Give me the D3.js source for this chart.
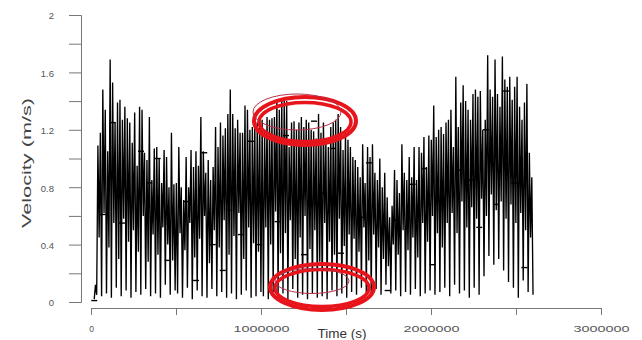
<!DOCTYPE html>
<html>
<head>
<meta charset="utf-8">
<script src="https://cdn.jsdelivr.net/npm/d3@7"></script>
<style>
  body { margin: 0; background: #fff; }
  text { font-family: "Liberation Sans", Arial, sans-serif; }
</style>
</head>
<body>
<div id="chart"></div>
<script>
// velocity record: first sample, then peak / trough pairs
var startVel = 0.02;

var peakVel = [
  0.12, 1.09, 1.18, 1.48, 1.34, 1.05, 1.69, 1.53, 1.25, 1.39, 1.41, 1.27, 1.36, 1.28, 1.25, 1.11, 1.32,
  0.95, 1.36, 1.34, 1.04, 0.99, 1.29, 0.85, 1.07, 1.08, 1.00, 0.83, 1.06, 1.01, 0.80, 1.18, 0.82,
  0.83, 1.08, 0.80, 0.71, 1.01, 0.80, 1.06, 0.94, 1.05, 0.95, 1.29, 1.05, 0.90, 0.99, 0.85, 0.94, 1.22,
  1.08, 1.25, 1.16, 1.21, 1.31, 1.48, 1.31, 1.21, 1.27, 1.18, 1.18, 1.37, 1.34, 1.20, 1.22, 1.27, 1.25, 1.29,
  1.27, 1.20, 1.29, 1.27, 1.28, 1.29, 1.41, 1.34, 1.42, 1.41, 1.40, 1.08, 1.25, 1.26, 1.20, 1.25, 1.29, 1.22,
  1.27, 1.25, 1.20, 1.19, 1.14, 1.31, 1.18, 1.25, 1.13, 1.08, 1.22, 1.25, 1.27, 1.31, 1.22, 1.06, 1.20, 1.13,
  1.08, 1.01, 0.99, 0.94, 0.87, 1.10, 0.83, 1.08, 1.01, 1.10, 0.90, 0.85, 1.00, 0.80, 0.90, 0.73, 0.59, 0.67,
  0.92, 0.85, 0.76, 1.10, 0.90, 0.85, 1.01, 0.87, 1.08, 0.85, 1.08, 1.04, 1.15, 0.94, 1.16, 1.13, 1.37, 1.15, 1.20, 1.22,
  1.17, 1.25, 1.27, 1.34, 1.08, 1.57, 1.22, 1.39, 1.51, 1.40, 1.34, 1.27, 1.45, 1.48, 1.43, 1.47, 1.20, 1.27,
  1.72, 1.48, 1.43, 1.69, 1.45, 1.36, 1.71, 1.55, 1.50, 1.57, 1.41, 1.50, 1.57, 1.36, 1.27, 1.39, 1.52, 1.04, 0.87
];

var troughVel = [
  0.05, 0.45, 0.04, 0.62, 0.06, 0.38, 0.03, 0.55, 0.10, 0.30, 0.04, 0.58, 0.08, 0.42, 0.03, 0.50, 0.07,
  0.35, 0.05, 0.60, 0.09, 0.28, 0.04, 0.47, 0.06, 0.33, 0.03, 0.52, 0.12, 0.40, 0.05, 0.29, 0.08,
  0.06, 0.48, 0.03, 0.36, 0.10, 0.55, 0.02, 0.31, 0.08, 0.44, 0.04, 0.60, 0.03, 0.27, 0.09, 0.50, 0.04,
  0.38, 0.07, 0.57, 0.03, 0.33, 0.06, 0.46, 0.02, 0.62, 0.05, 0.30, 0.08, 0.52, 0.03, 0.41, 0.04, 0.35, 0.07,
  0.04, 0.52, 0.02, 0.40, 0.07, 0.63, 0.03, 0.34, 0.06, 0.48, 0.02, 0.57, 0.09, 0.30, 0.03, 0.45, 0.05, 0.60,
  0.02, 0.37, 0.06, 0.50, 0.03, 0.28, 0.04, 0.55, 0.02, 0.42, 0.08, 0.33, 0.04, 0.58, 0.06, 0.39, 0.03, 0.47,
  0.07, 0.44, 0.05, 0.35, 0.10, 0.52, 0.06, 0.29, 0.04, 0.47, 0.09, 0.38, 0.05, 0.30, 0.12, 0.25, 0.06, 0.40,
  0.08, 0.33, 0.04, 0.50, 0.07, 0.36, 0.05, 0.45, 0.09, 0.31, 0.04, 0.55, 0.06, 0.42, 0.08, 0.60, 0.05, 0.48, 0.07, 0.38,
  0.10, 0.55, 0.04, 0.62, 0.12, 0.48, 0.06, 0.70, 0.08, 0.52, 0.03, 0.66, 0.10, 0.58, 0.05, 0.72, 0.18, 0.60,
  0.32, 0.75, 0.26, 0.64, 0.30, 0.70, 0.22, 0.58, 0.14, 0.68, 0.10, 0.55, 0.03, 0.62, 0.15, 0.50, 0.07, 0.45, 0.05
];

// logger start and sampling interval (s)
var sampleStart = 19000;
var sampleStep = 7210;

// small horizontal dash marks on the trace: time (s) and velocity
var dashTime = [19000, 69000, 128000, 182000, 294000, 343000, 392000, 451000, 559000, 618000, 666000,
  716000, 775000, 813000, 882000, 941000, 990000, 1098000, 1147000, 1253000, 1312000, 1370000, 1422000,
  1470000, 1588000, 1635000, 1745000, 1794000, 1892000, 1960000, 2010000, 2059000, 2166000, 2235000,
  2284000, 2323000, 2382000, 2441000, 2490000, 2549000];
var dashVel = [0.01, 0.61, 1.25, 0.55, 1.05, 0.83, 1.00, 0.29, 0.70, 0.15, 1.04,
  0.40, 0.22, 0.64, 0.47, 1.12, 0.40, 0.56, 1.16, 0.33, 1.26, 0.76, 1.07,
  0.34, 0.59, 0.97, 0.08, 0.57, 0.82, 0.93, 0.26, 0.71, 0.92, 0.85,
  0.52, 1.20, 0.68, 1.47, 0.83, 0.24];

var yTicks = [0, 0.2, 0.4, 0.6, 0.8, 1, 1.2, 1.4, 1.6, 1.8, 2];
var yLabels = ["0", "", "0.4", "", "0.8", "", "1.2", "", "1.6", "", "2"];
var xTicks = [0, 500000, 1000000, 1500000, 2000000, 2500000, 3000000];
var xLabels = ["0", "", "1000000", "", "2000000", "", "3000000"];

var w = 642;
var h = 340;

var svg = d3.select("#chart")
            .append("svg")
            .attr("width", w)
            .attr("height", h);

var xScale = d3.scaleLinear()
               .domain([0, 3000000])
               .range([91, 601]);

var yScale = d3.scaleLinear()
               .domain([0, 2])
               .range([302, 15]);

// interleave peaks and troughs into one series
var series = [{ t: sampleStart, v: startVel }];
peakVel.forEach(function(p, i) {
  series.push({ t: sampleStart + (2 * i + 1) * sampleStep, v: p });
  series.push({ t: sampleStart + (2 * i + 2) * sampleStep, v: troughVel[i] });
});

// y axis
var yAxis = d3.axisLeft(yScale)
              .tickValues(yTicks)
              .tickSize(12)
              .tickPadding(15)
              .tickFormat(function(d, i) { return yLabels[i]; });

var gy = svg.append("g")
            .attr("transform", "translate(81, 0)")
            .call(yAxis);
gy.select(".domain").attr("stroke", "#777").attr("stroke-width", 1);
gy.selectAll(".tick line").attr("stroke", "#777");
gy.selectAll(".tick text")
  .attr("fill", "#555")
  .attr("font-size", 9.5)
  .attr("dy", "0.4em")
  .style("font-family", "'Liberation Sans', Arial, sans-serif");

// x axis, drawn a little below the plot
var xAxis = d3.axisBottom(xScale)
              .tickValues(xTicks)
              .tickSize(7)
              .tickSizeOuter(0)
              .tickFormat(function(d, i) { return xLabels[i]; });

var gx = svg.append("g")
            .attr("transform", "translate(0, 308)")
            .call(xAxis);
gx.select(".domain").attr("stroke", "#777").attr("stroke-width", 1);
gx.selectAll(".tick line").attr("stroke", "#777");
gx.selectAll(".tick text")
  .attr("fill", "#555")
  .attr("font-size", 8.5)
  .attr("y", 24)
  .attr("dy", 0)
  .style("font-family", "'Liberation Sans', Arial, sans-serif")
  .each(function(d, i) {
    if (xLabels[i].length > 1) {
      d3.select(this)
        .attr("textLength", 56)
        .attr("lengthAdjust", "spacingAndGlyphs");
    }
  });

// velocity trace
var line = d3.line()
             .x(function(d) { return xScale(d.t); })
             .y(function(d) { return yScale(d.v); });

svg.append("path")
   .datum(series)
   .attr("d", line)
   .attr("fill", "none")
   .attr("stroke", "#000")
   .attr("stroke-width", 1.35);

svg.selectAll(".dash")
   .data(dashTime)
   .enter()
   .append("line")
   .attr("class", "dash")
   .attr("x1", function(d) { return xScale(d) - 3; })
   .attr("x2", function(d) { return xScale(d) + 3; })
   .attr("y1", function(d, i) { return yScale(dashVel[i]); })
   .attr("y2", function(d, i) { return yScale(dashVel[i]); })
   .attr("stroke", "#000")
   .attr("stroke-width", 1.4);

// axis titles
svg.append("text")
   .attr("transform", "translate(31, 163) rotate(-90)")
   .attr("text-anchor", "middle")
   .attr("font-size", 13)
   .attr("fill", "#444")
   .attr("textLength", 130)
   .attr("lengthAdjust", "spacingAndGlyphs")
   .text("Velocity (m/s)");

svg.append("text")
   .attr("x", 342)
   .attr("y", 338)
   .attr("text-anchor", "middle")
   .attr("font-size", 13.5)
   .attr("fill", "#333")
   .text("Time (s)");

// red hand-drawn highlight rings
var rings = [
  { cx: 305, cy: 121, rx: 51, ry: 24, sw: 4 },
  { cx: 305, cy: 122, rx: 46, ry: 19.5, sw: 3.5 },
  { cx: 322, cy: 287, rx: 52, ry: 23, sw: 4 },
  { cx: 322, cy: 288, rx: 47, ry: 18.5, sw: 3.5 }
];
var thinRings = [
  { cx: 297, cy: 112, rx: 44, ry: 18 },
  { cx: 312, cy: 281, rx: 37, ry: 12.5 }
];

svg.selectAll(".ring")
   .data(rings)
   .enter()
   .append("ellipse")
   .attr("class", "ring")
   .attr("cx", function(d) { return d.cx; })
   .attr("cy", function(d) { return d.cy; })
   .attr("rx", function(d) { return d.rx; })
   .attr("ry", function(d) { return d.ry; })
   .attr("fill", "none")
   .attr("stroke", "#e8141b")
   .attr("stroke-width", function(d) { return d.sw; });

svg.selectAll(".thin-ring")
   .data(thinRings)
   .enter()
   .append("ellipse")
   .attr("class", "thin-ring")
   .attr("cx", function(d) { return d.cx; })
   .attr("cy", function(d) { return d.cy; })
   .attr("rx", function(d) { return d.rx; })
   .attr("ry", function(d) { return d.ry; })
   .attr("fill", "none")
   .attr("stroke", "#b8304a")
   .attr("stroke-width", 1);
</script>
</body>
</html>
